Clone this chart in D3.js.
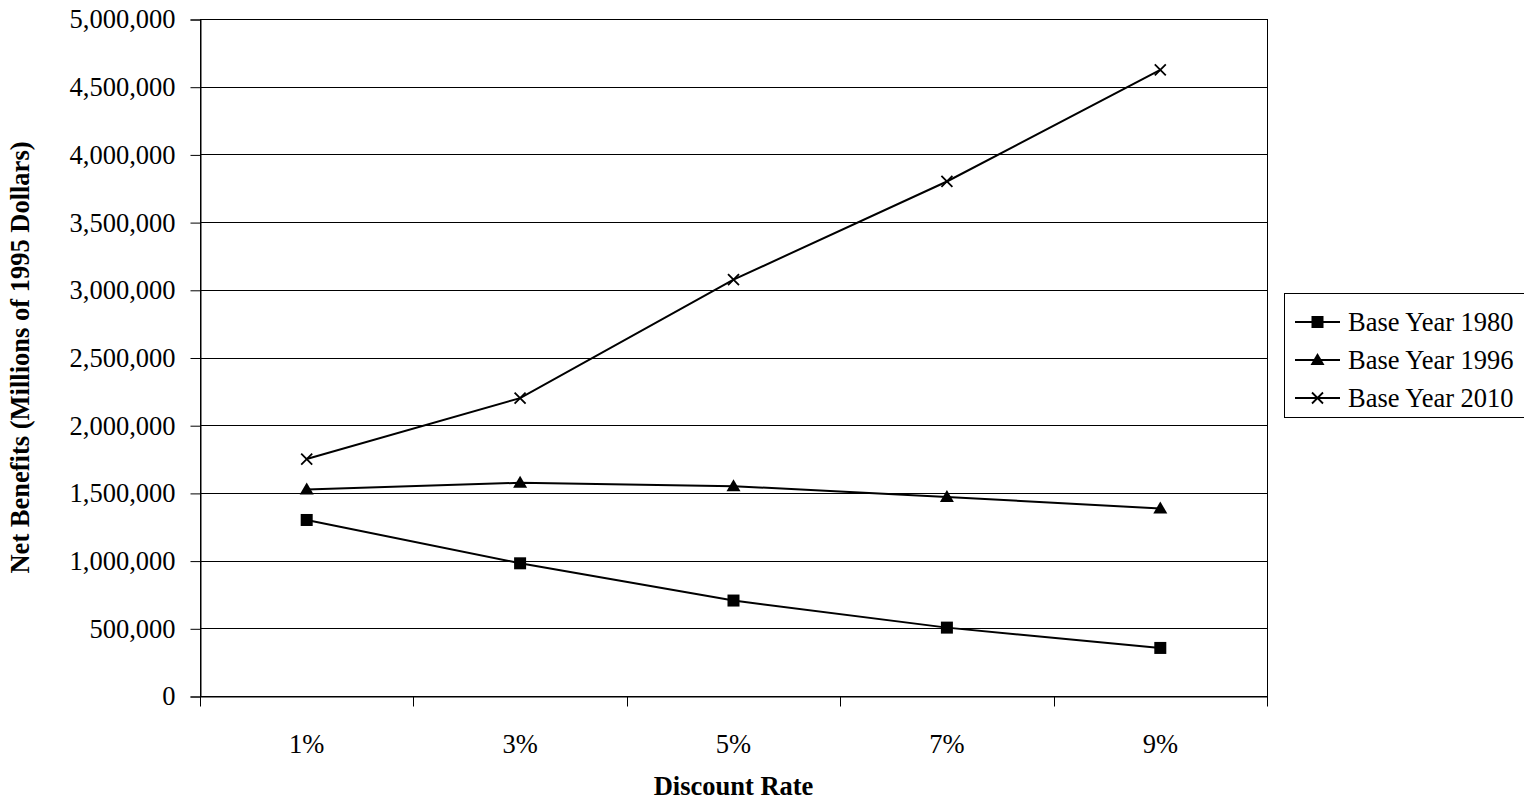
<!DOCTYPE html>
<html>
<head>
<meta charset="utf-8">
<script src="https://cdn.jsdelivr.net/npm/d3@7"></script>
<style>
  html, body { margin: 0; padding: 0; background: #fff; overflow: hidden; }
  svg { display: block; }
  text { font-family: "Liberation Serif", "Times New Roman", serif; fill: #000; }
</style>
</head>
<body>
<svg id="chart" width="1524" height="803"></svg>
<script>
const categories = ["1%", "3%", "5%", "7%", "9%"];
const seriesNames = ["Base Year 1980", "Base Year 1996", "Base Year 2010"];
const base1980 = [1300000, 980000, 705000, 505000, 355000];
const base1996 = [1525000, 1575000, 1550000, 1470000, 1385000];
const base2010 = [1750000, 2200000, 3075000, 3800000, 4625000];
const yTicks = [0, 500000, 1000000, 1500000, 2000000, 2500000, 3000000, 3500000, 4000000, 4500000, 5000000];
const xTitle = "Discount Rate";
const yTitle = "Net Benefits (Millions of 1995 Dollars)";

(function () {
const series = [
  { name: seriesNames[0], values: base1980, marker: "square" },
  { name: seriesNames[1], values: base1996, marker: "triangle" },
  { name: seriesNames[2], values: base2010, marker: "x" }
];

const svg = d3.select("#chart");
const pL = 200, pR = 1267, pT = 19, pB = 696;
const fs = 26.5;

const x = d3.scaleBand().domain(categories).range([pL, pR]).padding(0);
const y = d3.scaleLinear().domain([0, 5000000]).range([pB, pT]);
const fmt = d3.format(",");

// gridlines
svg.append("g").selectAll("line").data(yTicks).join("line")
  .attr("x1", pL).attr("x2", pR)
  .attr("y1", d => Math.round(y(d)) + 0.5).attr("y2", d => Math.round(y(d)) + 0.5)
  .attr("stroke", "#000").attr("stroke-width", 1);

// plot border
svg.append("rect").attr("x", pL + 0.5).attr("y", Math.round(y(5000000)) + 0.5)
  .attr("width", pR - pL).attr("height", Math.round(y(0)) - Math.round(y(5000000)))
  .attr("fill", "none").attr("stroke", "#000").attr("stroke-width", 1);

// y axis
const yAxis = d3.axisLeft(y).tickValues(yTicks).tickFormat(fmt).tickSize(10).tickPadding(15);
const gy = svg.append("g").attr("transform", `translate(${pL + 0.5},0.5)`).call(yAxis);
gy.select(".domain").attr("stroke", "#000");
gy.selectAll(".tick line").attr("stroke", "#000");
gy.selectAll("text").style("font-size", fs + "px").attr("fill", "#000")
  .style("font-family", "'Liberation Serif', serif");

// x axis
const xAxis = d3.axisBottom(x).tickSize(0).tickPadding(38);
const gx = svg.append("g").attr("transform", `translate(0,${Math.round(y(0)) + 0.5})`).call(xAxis);
gx.select(".domain").attr("stroke", "#000");
gx.selectAll("text").style("font-size", fs + "px").attr("fill", "#000")
  .style("font-family", "'Liberation Serif', serif");
const bounds = categories.map(c => x(c)).concat([x(categories[categories.length - 1]) + x.bandwidth()]);
gx.append("g").selectAll("line").data(bounds).join("line")
  .attr("x1", d => Math.round(d) + 0.5).attr("x2", d => Math.round(d) + 0.5)
  .attr("y1", 0).attr("y2", 10).attr("stroke", "#000");

// lines
const cx = c => x(c) + x.bandwidth() / 2;
const line = d3.line().x((d, i) => cx(categories[i])).y(d => y(d));
series.forEach(s => {
  svg.append("path").datum(s.values).attr("d", line)
    .attr("fill", "none").attr("stroke", "#000").attr("stroke-width", 2);
});

function drawMarker(g, type, px, py) {
  if (type === "square") {
    g.append("rect").attr("x", px - 6).attr("y", py - 6).attr("width", 12).attr("height", 12).attr("fill", "#000");
  } else if (type === "triangle") {
    g.append("path").attr("d", `M${px},${py - 7} L${px + 7},${py + 5} L${px - 7},${py + 5} Z`).attr("fill", "#000");
  } else {
    g.append("path").attr("d", `M${px - 5.5},${py - 5.5} L${px + 5.5},${py + 5.5} M${px + 5.5},${py - 5.5} L${px - 5.5},${py + 5.5}`)
      .attr("stroke", "#000").attr("stroke-width", 1.8).attr("fill", "none");
  }
}
series.forEach(s => {
  const g = svg.append("g");
  s.values.forEach((v, i) => drawMarker(g, s.marker, cx(categories[i]), y(v)));
});

// axis titles
svg.append("text").attr("x", (pL + pR) / 2).attr("y", 795)
  .attr("text-anchor", "middle").style("font-size", fs + "px").style("font-weight", "bold").text(xTitle);
svg.append("text").attr("transform", `translate(29,${(pT + pB) / 2}) rotate(-90)`)
  .attr("text-anchor", "middle").style("font-size", fs + "px").style("font-weight", "bold").text(yTitle);

// legend
const lg = svg.append("g");
lg.append("rect").attr("x", 1284.5).attr("y", 293.5).attr("width", 260).attr("height", 124)
  .attr("fill", "#fff").attr("stroke", "#000").attr("stroke-width", 1);
series.forEach((s, i) => {
  const ly = 322 + i * 38;
  lg.append("line").attr("x1", 1295).attr("x2", 1340).attr("y1", ly).attr("y2", ly)
    .attr("stroke", "#000").attr("stroke-width", 2);
  drawMarker(lg, s.marker, 1317.5, ly);
  lg.append("text").attr("x", 1348).attr("y", ly).attr("dy", "0.35em")
    .style("font-size", fs + "px").text(s.name);
});
})();
</script>
</body>
</html>
